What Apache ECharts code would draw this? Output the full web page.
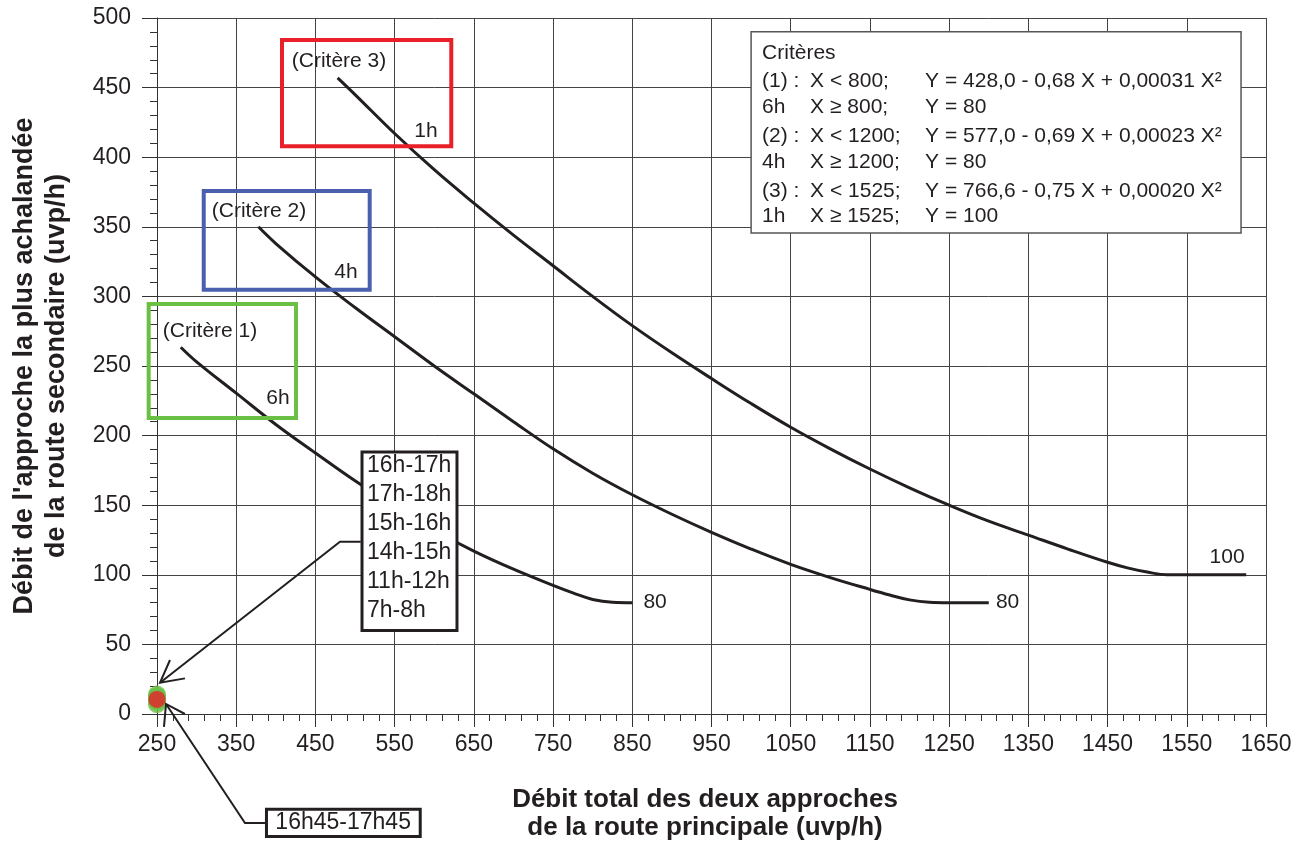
<!DOCTYPE html>
<html>
<head>
<meta charset="utf-8">
<script src="https://cdn.jsdelivr.net/npm/echarts@6/dist/echarts.min.js"></script>
<style>
  html, body { margin: 0; padding: 0; background: #ffffff; }
  #chart { width: 1300px; height: 844px; }
</style>
</head>
<body>
<div id="chart"></div>
<script>
// Critère 1 (6h) : débit principal X / débit secondaire Y (uvp/h)
const crit1X = [280, 300, 350, 400, 450, 500, 550, 600, 650, 700, 750, 775, 800, 825, 850];
const crit1Y = [263.5, 253, 230.5, 208, 187.5, 167.5, 149, 132, 117, 104, 92.4, 87, 82.3, 80.3, 80];

// Critère 2 (4h)
const crit2X = [378, 400, 450, 500, 550, 600, 650, 700, 750, 800, 850, 900, 950, 1000, 1050, 1100, 1150, 1175, 1200, 1225, 1250, 1300];
const crit2Y = [350, 338, 314, 292, 271, 250, 230, 210, 190.5, 173, 157.5, 143.5, 130.5, 118.5, 107.5, 98, 89.5, 85.5, 82, 80.3, 80, 80];

// Critère 3 (1h)
const crit3X = [478, 500, 550, 600, 650, 700, 750, 800, 850, 900, 950, 1000, 1050, 1100, 1150, 1200, 1250, 1300, 1350, 1400, 1450, 1475, 1500, 1525, 1625];
const crit3Y = [457, 445, 417, 391, 367, 344, 322, 300, 279, 259.5, 241, 223, 206, 190.5, 176, 162.5, 150, 138.5, 128.5, 118.5, 109, 105, 102, 100, 100];

// Périodes observées
const greenPeriods = ['16h-17h', '17h-18h', '15h-16h', '14h-15h', '11h-12h', '7h-8h'];
const greenX = [250, 250, 250, 250, 250, 250];
const greenY = [7, 9, 10, 12, 13, 14];
const redPeriod = '16h45-17h45';
const redX = [250];
const redY = [10.5];

// Seuils de fin de courbe
const endValues = ['80', '80', '100'];
const critereNames = ['(Critère 1)', '(Critère 2)', '(Critère 3)'];
const critereHours = ['6h', '4h', '1h'];

// Tableau des critères
const legendTitle = 'Critères';
const legendCol1 = ['(1) :', '6h', '(2) :', '4h', '(3) :', '1h'];
const legendCol2 = ['X < 800;', 'X \u2265 800;', 'X < 1200;', 'X \u2265 1200;', 'X < 1525;', 'X \u2265 1525;'];
const legendCol3 = ['Y = 428,0 - 0,68 X + 0,00031 X\u00b2', 'Y = 80', 'Y = 577,0 - 0,69 X + 0,00023 X\u00b2', 'Y = 80', 'Y = 766,6 - 0,75 X + 0,00020 X\u00b2', 'Y = 100'];

const FONT = '"Liberation Sans", Arial, Helvetica, sans-serif';
const INK = '#231f20';

const pairs = (xs, ys) => xs.map((x, i) => [x, ys[i]]);

const chart = echarts.init(document.getElementById('chart'), null, { renderer: 'canvas' });

const curveStyle = { color: INK, width: 3 };
const curveBase = { type: 'line', showSymbol: false, smooth: 0.4, lineStyle: curveStyle, z: 3 };

chart.setOption({
  backgroundColor: '#ffffff',
  animation: false,
  grid: { left: 157, right: 34, top: 18, bottom: 130, containLabel: false, outerBoundsMode: 'none' },
  xAxis: {
    type: 'value', min: 250, max: 1650, interval: 100,
    axisLine: { show: true, onZero: false, lineStyle: { color: '#333', width: 1 } },
    axisTick: { show: true, length: 13, lineStyle: { color: '#333', width: 1 } },
    minorTick: { show: true, splitNumber: 5, length: 7, lineStyle: { color: '#333', width: 1 } },
    axisLabel: { fontSize: 23, color: INK, margin: 19, fontFamily: FONT, showMinLabel: true, showMaxLabel: true,
      formatter: v => String(v) },
    splitLine: { show: true, lineStyle: { color: '#444', width: 1 } },
    minorSplitLine: { show: false },
    name: 'Débit total des deux approches\nde la route principale (uvp/h)',
    nameLocation: 'middle', nameGap: 72,
    nameTextStyle: { fontSize: 26, fontWeight: 'bold', lineHeight: 28, color: INK, fontFamily: FONT, padding: [0, 13, 0, 0] }
  },
  yAxis: {
    type: 'value', min: 0, max: 500, interval: 50,
    axisLine: { show: true, onZero: false, lineStyle: { color: '#333', width: 1 } },
    axisTick: { show: true, length: 15, lineStyle: { color: '#333', width: 1 } },
    minorTick: { show: true, splitNumber: 5, length: 7, lineStyle: { color: '#333', width: 1 } },
    axisLabel: { fontSize: 23, color: INK, margin: 26, fontFamily: FONT, showMinLabel: true, showMaxLabel: true,
      formatter: v => String(v) },
    splitLine: { show: true, lineStyle: { color: '#444', width: 1 } },
    name: "Débit de l'approche la plus achalandée\nde la route secondaire (uvp/h)",
    nameLocation: 'middle', nameGap: 84, nameRotate: 90,
    nameTextStyle: { fontSize: 27, fontWeight: 'bold', lineHeight: 32, color: INK, fontFamily: FONT }
  },
  series: [
    Object.assign({ name: critereNames[0], data: pairs(crit1X, crit1Y) }, curveBase),
    Object.assign({ name: critereNames[1], data: pairs(crit2X, crit2Y) }, curveBase),
    Object.assign({ name: critereNames[2], data: pairs(crit3X, crit3Y) }, curveBase),
    { name: 'périodes', type: 'scatter', data: pairs(greenX, greenY), symbolSize: 18, clip: false,
      itemStyle: { color: '#6abf45' }, z: 20 },
    { name: redPeriod, type: 'scatter', data: pairs(redX, redY), symbolSize: 17, clip: false,
      itemStyle: { color: '#e8202a' }, z: 21 }
  ]
});

// Annotations placed in data coordinates and converted through the axes
const P = (x, y) => chart.convertToPixel({ gridIndex: 0 }, [x, y]);

function boxFromData(x1, y1, x2, y2, style, z) {
  const a = P(x1, y1), b = P(x2, y2);
  return {
    type: 'rect', z: z || 30,
    shape: { x: Math.min(a[0], b[0]), y: Math.min(a[1], b[1]), width: Math.abs(b[0] - a[0]), height: Math.abs(b[1] - a[1]) },
    style: style
  };
}
function textAt(x, y, text, opts) {
  const p = P(x, y);
  return {
    type: 'text', z: (opts && opts.z) || 40, x: p[0], y: p[1],
    style: Object.assign({ text: text, fill: INK, fontSize: 21, fontFamily: FONT, align: 'center', verticalAlign: 'middle' }, opts || {})
  };
}
function polyFromData(pts, width) {
  return {
    type: 'polyline', z: 35,
    shape: { points: pts.map(p => P(p[0], p[1])) },
    style: { stroke: INK, lineWidth: width || 2, fill: null }
  };
}

const graphics = [];

// Cadres de couleur des critères
graphics.push(boxFromData(407.8, 484.2, 621.5, 407.8, { fill: null, stroke: '#e8202a', lineWidth: 4 }));
graphics.push(boxFromData(309.0, 375.7, 518.5, 304.8, { fill: null, stroke: '#4a5fad', lineWidth: 4 }));
graphics.push(boxFromData(239.5, 294.5, 425.5, 212.6, { fill: null, stroke: '#6abf45', lineWidth: 4 }));

// Noms et durées des critères
graphics.push(textAt(479.8, 469.1, critereNames[2]));
graphics.push(textAt(589.6, 418.8, critereHours[2]));
graphics.push(textAt(378.8, 361.4, critereNames[1]));
graphics.push(textAt(488.6, 317.5, critereHours[1]));
graphics.push(textAt(316.9, 275.1, critereNames[0]));
graphics.push(textAt(402.8, 227.0, critereHours[0]));

// Valeurs de plancher en bout de courbe
graphics.push(textAt(crit1X[crit1X.length - 1] + 14, crit1Y[crit1Y.length - 1], endValues[0], { align: 'left' }));
graphics.push(textAt(crit2X[crit2X.length - 1] + 9, crit2Y[crit2Y.length - 1], endValues[1], { align: 'left' }));
graphics.push(textAt(crit3X[crit3X.length - 1] - 2, crit3Y[crit3Y.length - 1] + 12.8, endValues[2], { align: 'right' }));

// Encadré des périodes et flèche vers les points
graphics.push(boxFromData(508.8, 188.2, 628.7, 60.0, { fill: '#ffffff', stroke: INK, lineWidth: 3 }, 36));
{
  const tl = P(508.8, 188.2);
  greenPeriods.forEach((t, i) => {
    graphics.push({
      type: 'text', z: 41, x: tl[0] + 5, y: tl[1] + 13.5 + i * 29,
      style: { text: t, fill: INK, fontSize: 23, fontFamily: FONT, align: 'left', verticalAlign: 'middle' }
    });
  });
}
graphics.push(polyFromData([[507.2, 123.8], [481, 123.8], [253.8, 22.5]]));
graphics.push(polyFromData([[266.4, 38.8], [253.8, 22.5], [285.3, 25.6]]));

// Encadré de la période de pointe et sa flèche
graphics.push(boxFromData(388.2, -68.4, 582.3, -88.0, { fill: '#ffffff', stroke: INK, lineWidth: 3 }, 36));
graphics.push(textAt(485.0, -78.3, redPeriod, { fontSize: 23, z: 41 }));
graphics.push(polyFromData([[386.3, -78.3], [361.1, -78.3], [261.4, 7.2]]));
graphics.push(polyFromData([[285.3, 0], [261.4, 7.2], [258.8, -9.3]]));

// Tableau des critères
graphics.push(boxFromData(1000, 490.2, 1618.5, 345.5, { fill: '#ffffff', stroke: '#555555', lineWidth: 1.5 }, 36));
{
  const tl = P(1000, 490.2);
  const rowY = [49.3, 75.6, 104.3, 131, 159.3, 185];
  const base = { fill: INK, fontSize: 21, fontFamily: FONT, align: 'left', verticalAlign: 'middle' };
  graphics.push({ type: 'text', z: 41, x: tl[0] + 11, y: tl[1] + 21.6, style: Object.assign({ text: legendTitle }, base) });
  legendCol1.forEach((t, i) => {
    graphics.push({ type: 'text', z: 41, x: tl[0] + 11, y: tl[1] + rowY[i], style: Object.assign({ text: t }, base) });
    graphics.push({ type: 'text', z: 41, x: tl[0] + 59, y: tl[1] + rowY[i], style: Object.assign({ text: legendCol2[i] }, base) });
    graphics.push({ type: 'text', z: 41, x: tl[0] + 174, y: tl[1] + rowY[i], style: Object.assign({ text: legendCol3[i] }, base) });
  });
}

chart.setOption({ graphic: { elements: graphics } });
</script>
</body>
</html>
